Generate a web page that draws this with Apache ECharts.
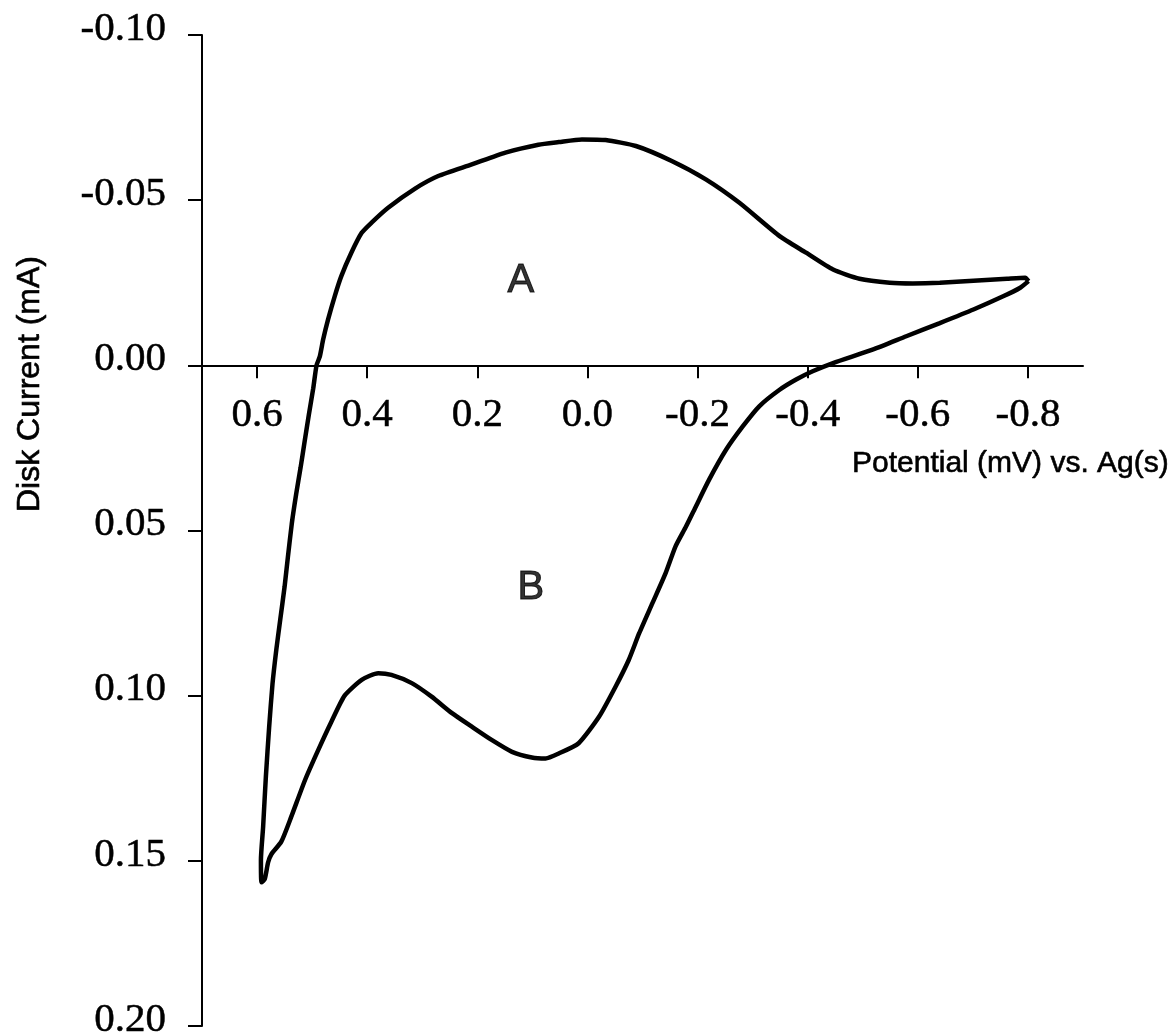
<!DOCTYPE html>
<html>
<head>
<meta charset="utf-8">
<script src="https://cdn.jsdelivr.net/npm/echarts@6/dist/echarts.min.js"></script>
<style>
  html, body { margin: 0; padding: 0; background: #fff; }
  #chart { width: 1173px; height: 1035px; }
</style>
</head>
<body>
<div id="chart"></div>
<script>
// Cyclic voltammogram: disk current vs. potential.
// Forward scan: from the cathodic limit (-0.8 V) back over wave A to the anodic limit.
const forwardPotential = [-0.801, -0.795, -0.762, -0.701, -0.640, -0.591, -0.549, -0.494, -0.446, -0.397,
  -0.349, -0.276, -0.215, -0.154, -0.088, -0.033, 0.010, 0.052, 0.089, 0.149,
  0.210, 0.271, 0.313, 0.362, 0.392, 0.410, 0.429, 0.447, 0.459, 0.471,
  0.480, 0.486, 0.492, 0.498, 0.506, 0.514, 0.521, 0.529, 0.537, 0.544,
  0.550, 0.558, 0.565, 0.572, 0.578, 0.584, 0.589, 0.593, 0.592];
const forwardCurrent = [-0.0255, -0.0265, -0.0262, -0.0256, -0.0250, -0.0248, -0.0250, -0.0262, -0.0290, -0.0341,
  -0.0391, -0.0492, -0.0563, -0.0618, -0.0664, -0.0682, -0.0684, -0.0676, -0.0668, -0.0644,
  -0.0608, -0.0573, -0.0535, -0.0477, -0.0432, -0.0401, -0.0340, -0.0270, -0.0209, -0.0139,
  -0.0078, -0.0027, 0.0000, 0.0070, 0.0150, 0.0235, 0.0310, 0.0390, 0.0480, 0.0580,
  0.0670, 0.0771, 0.0860, 0.0965, 0.1094, 0.1245, 0.1397, 0.1498, 0.1565];

// Reverse scan: from the anodic limit over wave B back to -0.8 V.
const reversePotential = [0.586, 0.580, 0.574, 0.556, 0.538, 0.513, 0.489, 0.465, 0.441, 0.410,
  0.380, 0.356, 0.319, 0.283, 0.246, 0.210, 0.174, 0.137, 0.101, 0.076,
  0.052, 0.016, -0.021, -0.051, -0.075, -0.094, -0.118, -0.142, -0.160, -0.179,
  -0.197, -0.221, -0.252, -0.282, -0.312, -0.349, -0.379, -0.409, -0.446, -0.519,
  -0.579, -0.640, -0.701, -0.755, -0.786, -0.801];
const reverseCurrent = [0.1555, 0.1505, 0.1480, 0.1442, 0.1367, 0.1256, 0.1165, 0.1079, 0.1000, 0.0952,
  0.0932, 0.0937, 0.0962, 0.1003, 0.1053, 0.1094, 0.1134, 0.1170, 0.1187, 0.1190,
  0.1175, 0.1144, 0.1064, 0.0973, 0.0892, 0.0811, 0.0720, 0.0629, 0.0548, 0.0488,
  0.0427, 0.0346, 0.0255, 0.0185, 0.0124, 0.0074, 0.0043, 0.0018, -0.0007, -0.0048,
  -0.0088, -0.0128, -0.0169, -0.0209, -0.0235, -0.0255];

// Axis ticks
const potentialTicks = [0.6, 0.4, 0.2, 0.0, -0.2, -0.4, -0.6, -0.8];
const currentTicks = [-0.10, -0.05, 0.00, 0.05, 0.10, 0.15, 0.20];

// Wave labels and where they sit (potential, current)
const waveNames = ['A', 'B'];
const wavePotential = [0.121, 0.103];
const waveCurrent = [-0.0254, 0.0674];

const loop = forwardPotential.map((p, i) => [p, forwardCurrent[i]])
  .concat(reversePotential.map((p, i) => [p, reverseCurrent[i]]));
const waves = waveNames.map((n, i) => ({ name: n, value: [wavePotential[i], waveCurrent[i]] }));

const fmt = (v, d) => (Math.abs(v) < 1e-9 ? 0 : v).toFixed(d);
const serif = '"Liberation Serif", "Times New Roman", serif';
const sans = '"Liberation Sans", Arial, sans-serif';

const chart = echarts.init(document.getElementById('chart'), null, { renderer: 'canvas' });
chart.setOption({
  backgroundColor: '#ffffff',
  animation: false,
  grid: { left: 202, right: 90, top: 35, bottom: 9, containLabel: false, outerBoundsMode: 'none' },
  xAxis: {
    type: 'value',
    inverse: true,
    min: -0.9,
    max: 0.7,
    // The potential axis is drawn through zero current; its offset is set below.
    axisLine: { onZero: false, lineStyle: { color: '#000', width: 2 } },
    axisTick: { show: true, customValues: potentialTicks, length: 13, inside: false, lineStyle: { color: '#000', width: 2 } },
    axisLabel: {
      customValues: potentialTicks,
      formatter: v => fmt(v, 1),
      margin: 29,
      color: '#000',
      fontFamily: serif,
      fontSize: 41,
      textBorderColor: '#000',
      textBorderWidth: 0.5
    },
    splitLine: { show: false }
  },
  yAxis: {
    type: 'value',
    inverse: true,
    min: -0.1,
    max: 0.2,
    axisLine: { show: true, onZero: false, lineStyle: { color: '#000', width: 2 } },
    axisTick: { show: true, customValues: currentTicks, length: 14, lineStyle: { color: '#000', width: 2 } },
    axisLabel: {
      customValues: currentTicks,
      formatter: v => fmt(v, 2),
      margin: 36,
      // labels sit a little above their ticks
      verticalAlign: 'bottom',
      lineHeight: 12,
      color: '#000',
      fontFamily: serif,
      fontSize: 41,
      textBorderColor: '#000',
      textBorderWidth: 0.5
    },
    splitLine: { show: false }
  },
  graphic: [
    {
      type: 'text',
      x: 852, y: 464,
      style: { text: 'Potential (mV) vs. Ag(s)', fill: '#000', font: '30px ' + sans, textAlign: 'left', textVerticalAlign: 'middle', stroke: '#000', lineWidth: 0.6 }
    },
    {
      type: 'text',
      x: 30, y: 384,
      rotation: Math.PI / 2,
      style: { text: 'Disk Current (mA)', fill: '#000', font: '32px ' + sans, textAlign: 'center', textVerticalAlign: 'middle', stroke: '#000', lineWidth: 0.6 }
    }
  ],
  series: [
    {
      type: 'line',
      data: loop,
      showSymbol: false,
      smooth: 0.2,
      lineStyle: { color: '#000', width: 4.5 },
      z: 3
    },
    {
      type: 'scatter',
      data: waves,
      symbolSize: 0,
      label: {
        show: true,
        position: 'inside',
        formatter: p => p.name,
        color: '#000',
        fontFamily: sans,
        fontSize: 40,
        textBorderColor: '#000',
        textBorderWidth: 1
      },
      z: 4
    }
  ]
});

// Move the potential axis up so it crosses the current axis at 0.
const zeroY = chart.convertToPixel({ yAxisIndex: 0 }, 0);
const bottomY = chart.convertToPixel({ yAxisIndex: 0 }, 0.2);
chart.setOption({ xAxis: { offset: zeroY - bottomY } });
</script>
</body>
</html>
